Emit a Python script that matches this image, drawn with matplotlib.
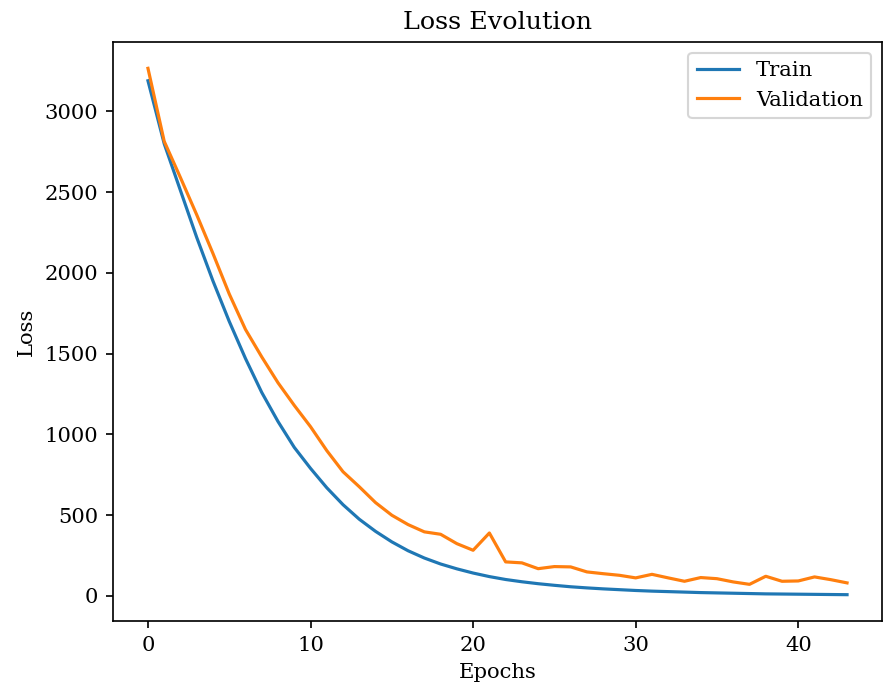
import matplotlib
matplotlib.use("Agg")
import matplotlib.pyplot as plt
import numpy as np

plt.rcParams["font.family"] = "DejaVu Serif"

train_loss = [3190, 2800, 2510, 2220, 1950, 1700, 1470, 1260, 1080, 920,
              790, 670, 565, 475, 400, 335, 280, 235, 198, 168,
              142, 120, 102, 88, 76, 66, 57, 50, 44, 39,
              34, 30, 27, 24, 21, 19, 17, 15, 13, 12,
              11, 10, 9, 8]
val_loss = [3267, 2815, 2590, 2360, 2120, 1870, 1650, 1480, 1320, 1180,
            1048, 900, 769, 676, 578, 500, 442, 397, 382, 324,
            283, 390, 211, 205, 169, 182, 180, 149, 138, 128,
            112, 134, 112, 91, 114, 107, 87, 72, 122, 91,
            93, 118, 101, 81]
epochs = np.arange(len(train_loss))

W, H = 885, 693
fig, ax = plt.subplots(figsize=(W / 152, H / 152), dpi=152)
fig.subplots_adjust(left=113 / W, right=882 / W, top=1 - 42 / H, bottom=1 - 621 / H)
ax.plot(epochs, train_loss, label="Train")
ax.plot(epochs, val_loss, label="Validation")
ax.set_title("Loss Evolution")
ax.set_xlabel("Epochs")
ax.set_ylabel("Loss")
ax.legend()
plt.savefig("out.png")
